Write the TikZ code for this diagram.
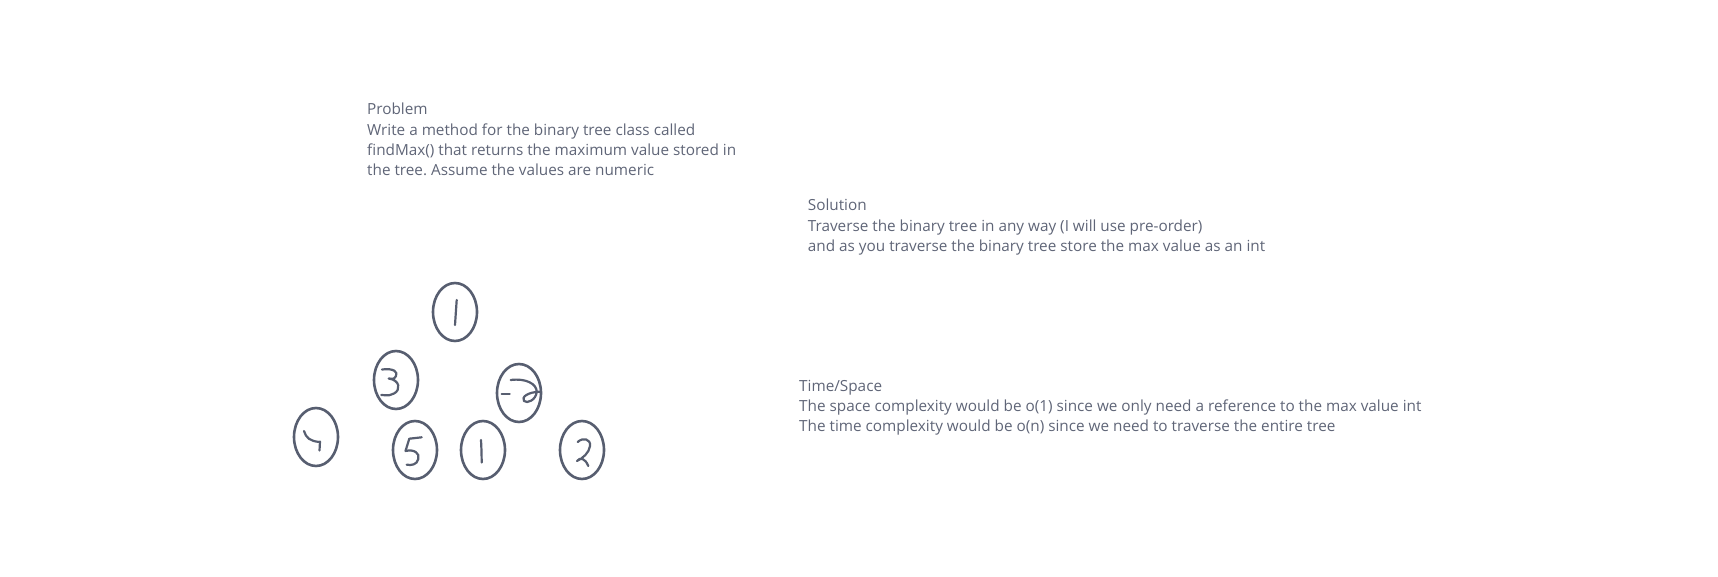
\documentclass[tikz,border=0pt]{standalone}
\usepackage{fontspec}
\setmainfont[Ligatures=NoCommon]{Open Sans}
\frenchspacing
\usetikzlibrary{shapes.geometric}
\definecolor{ink}{HTML}{575E70}
\definecolor{txt}{HTML}{5F6577}
\tikzset{
  bubble/.style={draw=ink, line width=2.6pt, ellipse, minimum width=44pt, minimum height=58pt, inner sep=0pt},
  digit/.style={draw=ink, line width=2.2pt, line cap=round, line join=round},
  line/.style={anchor=base west, inner sep=0pt, text=txt, font=\fontsize{15.3}{20}\selectfont},
}
\begin{document}
\begin{tikzpicture}[x=1pt,y=-1pt]
\useasboundingbox (0,0) rectangle (1718,577);
% text blocks
\node[line] (p0) at (367,115) {Problem};
\node[line] (p1) at (367,135.5) {Write a method for the binary tree class called};
\node[line] (p2) at (367,155.7) {findMax() that returns the maximum value stored in};
\node[line] (p3) at (367,176) {the tree. Assume the values are numeric};
\node[line] (s0) at (807.7,211) {Solution};
\node[line] (s1) at (807.7,231.5) {Traverse the binary tree in any way (I will use pre-order)};
\node[line] (s2) at (807.7,252) {and as you traverse the binary tree store the max value as an int};
\node[line] (t0) at (799,391) {Time/Space};
\node[line] (t1) at (799,411.5) {The space complexity would be o(1) since we only need a reference to the max value int};
\node[line] (t2) at (799,431.7) {The time complexity would be o(n) since we need to traverse the entire tree};
% bubbles
\node[bubble] (n1) at (455,312) {};
\node[bubble] (n3) at (396,380) {};
\node[bubble] (nm2) at (519,393) {};
\node[bubble] (n4) at (316,437) {};
\node[bubble] (n5) at (415,450) {};
\node[bubble] (n1b) at (483,450) {};
\node[bubble] (n2) at (582,450) {};
% digits
\draw[digit] (456.7,300) .. controls (456,310) .. (455,325);
\draw[digit] (382,369.5) .. controls (394,368) and (398,372) .. (396,376)
  .. controls (394,379) .. (388.7,378.5)
  .. controls (400,380) and (401,390) .. (394,393.5)
  .. controls (390,395.5) .. (381.3,395);
\draw[digit] (501.7,394.3) -- (509.7,394.3);
\draw[digit] (510.7,380) .. controls (526,378) and (537,384) .. (536.7,392)
  .. controls (536,400) and (527,404) .. (524,401)
  .. controls (521,397) and (528,392) .. (540,391.7);
\draw[digit] (304,431) .. controls (306,438) and (310,441) .. (319.3,442);
\draw[digit] (320,441.5) -- (319.5,450.5);
\draw[digit] (421.7,437.3) -- (409.3,438.7) -- (405.5,451)
  .. controls (414,449) and (420,453) .. (418.3,459)
  .. controls (417,465) and (411,465.5) .. (406.7,464.7);
\draw[digit] (481,440) .. controls (481.5,450) .. (481.7,462.5);
\draw[digit] (577.7,442) .. controls (583,437) and (591,439) .. (590,446)
  .. controls (589,453) and (583,458) .. (577,461)
  .. controls (580,457) and (585,458) .. (588.3,466);
\end{tikzpicture}
\end{document}
